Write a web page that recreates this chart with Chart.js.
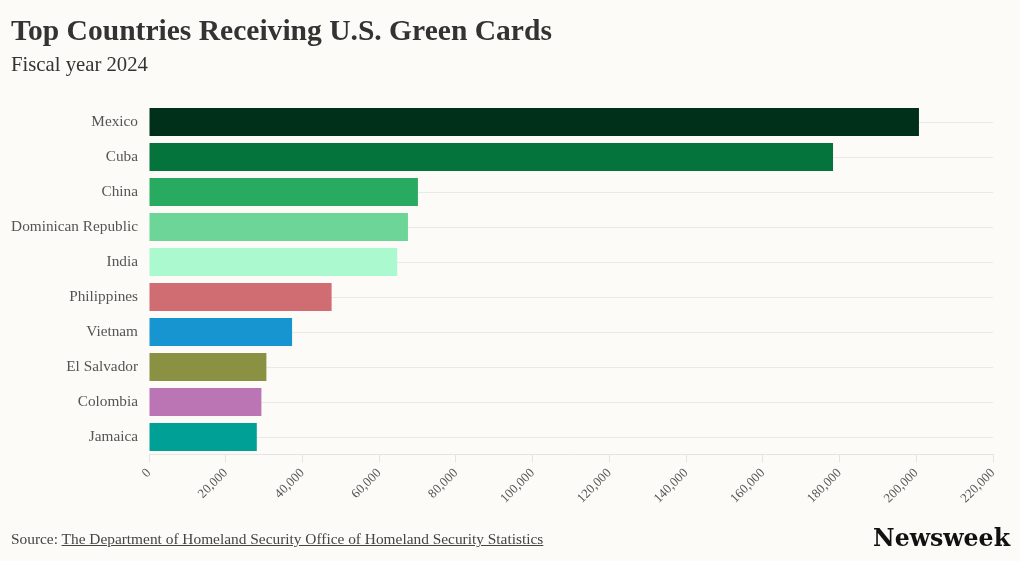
<!DOCTYPE html>
<html><head><meta charset="utf-8">
<script src="https://cdn.jsdelivr.net/npm/chart.js@4.4.1/dist/chart.umd.min.js"></script>
<style>
html,body{margin:0;padding:0;background:#fcfbf7;}
body{width:1020px;height:561px;position:relative;overflow:hidden;font-family:"Liberation Serif",serif;}
#wrap{position:absolute;left:0;top:0;width:1020px;height:561px;}
.t{position:absolute;white-space:nowrap;}
#title{left:11px;font-weight:bold;color:#333;}
#subtitle{left:11px;color:#333;}
#source{left:11px;color:#444;}
#source a{color:#444;text-decoration:underline;}
#logo{right:10px;font-family:"DejaVu Serif",serif;font-weight:bold;color:#111;}
</style></head>
<body>
<div id="wrap"><canvas id="c" width="1020" height="561"></canvas></div>
<div id="title" class="t">Top Countries Receiving U.S. Green Cards</div>
<div id="subtitle" class="t">Fiscal year 2024</div>
<div id="source" class="t">Source: <a>The Department of Homeland Security Office of Homeland Security Statistics</a></div>
<div id="logo" class="t">Newsweek</div>
<script>
const categories = ['Mexico','Cuba','China','Dominican Republic','India','Philippines','Vietnam','El Salvador','Colombia','Jamaica'];
const greenCards = [200700, 178300, 70100, 67500, 64700, 47600, 37300, 30600, 29300, 28100];
const tickValues = [0, 20000, 40000, 60000, 80000, 100000, 120000, 140000, 160000, 180000, 200000, 220000];
const barColors = ['#00301a','#05743c','#28ab61','#6ed598','#abf9cf','#cf6d73','#1795d0','#8a9142','#bb74b4','#00a096'];

const mctx = document.createElement('canvas').getContext('2d');
function fitSize(text, family, weight, style, targetW){
  mctx.font = `${style} ${weight} 100px ${family}`;
  return 100*targetW/mctx.measureText(text).width;
}
function place(el, family, weight, style, targetW, baseline){
  const size = fitSize(el.textContent, family, weight, style, targetW);
  mctx.font = `${style} ${weight} ${size}px ${family}`;
  const m = mctx.measureText(el.textContent);
  el.style.fontSize = size + 'px';
  el.style.lineHeight = (m.fontBoundingBoxAscent + m.fontBoundingBoxDescent) + 'px';
  el.style.top = (baseline - m.fontBoundingBoxAscent) + 'px';
}
place(document.getElementById('title'), '"Liberation Serif"', 'bold', 'normal', 541, 40);
place(document.getElementById('subtitle'), '"Liberation Serif"', 'normal', 'normal', 137, 71);
place(document.getElementById('source'), '"Liberation Serif"', 'normal', 'normal', 533, 544);
place(document.getElementById('logo'), '"DejaVu Serif"', 'bold', 'normal', 137, 546);

const ySize = fitSize('Dominican Republic', '"Liberation Serif"', 'normal', 'normal', 127);

new Chart(document.getElementById('c'), {
  type: 'bar',
  data: {
    labels: categories,
    datasets: [{
      data: greenCards,
      backgroundColor: barColors,
      barPercentage: 0.8,
      categoryPercentage: 1
    }]
  },
  options: {
    indexAxis: 'y',
    responsive: false,
    animation: false,
    layout: {padding: {left: 0, right: 27, top: 104.5, bottom: 0}},
    plugins: {legend: {display: false}, tooltip: {enabled: false}},
    scales: {
      x: {
        min: 0, max: 220000,
        afterBuildTicks: s => { s.ticks = tickValues.map(v => ({value: v})); },
        ticks: {
          minRotation: 45, maxRotation: 45, autoSkip: false,
          color: '#555', padding: 3,
          font: {family: '"Liberation Serif"', size: 13},
          callback: v => Number(v).toLocaleString('en-US')
        },
        grid: {drawOnChartArea: false, tickLength: 8, color: '#e6e4de'},
        border: {display: true, color: '#e6e4de'},
        afterFit: s => { s.height = 106.5; s.paddingLeft = 0; s.paddingRight = 0; }
      },
      y: {
        grid: {offset: false, drawTicks: false, color: '#ebe9e3'},
        border: {display: false},
        ticks: {color: '#555', padding: 11, font: {family: '"Liberation Serif"', size: ySize}},
        afterFit: s => { s.width = 149; s.paddingTop = 0; s.paddingBottom = 0; }
      }
    }
  }
});
</script>
</body></html>
